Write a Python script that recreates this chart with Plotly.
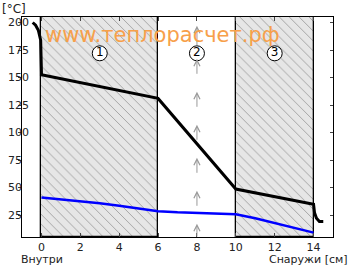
import plotly.graph_objects as go

# ---- data ----
layer_edges = [0, 6, 10, 14]          # cm
layer_labels = ["1", "2", "3"]
hatched_layers = [0, 2]                # indices of solid layers

temp_x = [-0.45, -0.3, -0.16, -0.04, 0.0, 0.0, 6.0, 10.0, 14.0, 14.05, 14.15, 14.3, 14.5]
temp_y = [200, 197.5, 193, 184, 155, 152.5, 131, 48.6, 34.7, 27, 22, 19, 19]

dew_x = [0, 1, 2, 3, 4, 5, 6, 7, 8, 9, 10, 11, 12, 13, 14]
dew_y = [41, 39.4, 37.6, 35.6, 33.5, 31.2, 28.5, 27.4, 26.9, 26.3, 25.6, 22, 17.5, 13.5, 9]

arrow_heads = [197, 167, 137, 107, 77, 47, 17]
arrow_tails = [178, 152, 122, 92, 62, 32, 4]
arrow_x = 8

y_ticks = [25, 50, 75, 100, 125, 150, 175, 200]
x_ticks = [0, 2, 4, 6, 8, 10, 12, 14]

y_min, y_max = 5, 205
x_min, x_max = -1, 15
FONT = "DejaVu Sans"

fig = go.Figure()

# hatched layers
bx, bw = [], []
for i in hatched_layers:
    a, b = layer_edges[i], layer_edges[i + 1]
    bx.append((a + b) / 2)
    bw.append(b - a)
fig.add_trace(go.Bar(
    x=bx, y=[y_max - y_min] * len(bx), base=[y_min] * len(bx), width=bw,
    marker=dict(color="#e6e6e6",
                line=dict(color="black", width=1.3),
                pattern=dict(shape="\\", fgcolor="#9a9a9a", bgcolor="#e6e6e6",
                             size=7, solidity=0.12, fillmode="replace")),
    hoverinfo="skip", showlegend=False))

# temperature
fig.add_trace(go.Scatter(x=temp_x, y=temp_y, mode="lines",
                         line=dict(color="black", width=3), showlegend=False))
# dew point
fig.add_trace(go.Scatter(x=dew_x, y=dew_y, mode="lines",
                         line=dict(color="#0000ff", width=2.5), showlegend=False))

annotations = []
for h, t in zip(arrow_heads, arrow_tails):
    annotations.append(dict(x=arrow_x, y=h, ax=arrow_x, ay=t, xref="x", yref="y",
                            axref="x", ayref="y", showarrow=True, arrowhead=5,
                            arrowsize=1.2, arrowwidth=1, arrowcolor="#999999", text=""))

# layer numbers
cx = [(layer_edges[i] + layer_edges[i + 1]) / 2 for i in range(3)]
fig.add_trace(go.Scatter(x=cx, y=[172] * 3, mode="markers+text", text=layer_labels,
                         textposition="middle center",
                         textfont=dict(family=FONT, size=12, color="black"),
                         marker=dict(size=15, color="white", line=dict(color="black", width=1)),
                         showlegend=False))

# left-aligned y tick labels (as in the reference)
for v in y_ticks:
    annotations.append(dict(x=-0.0514, y=v, xref="paper", yref="y", text=str(v),
                            showarrow=False, xanchor="left", yanchor="middle",
                            font=dict(family=FONT, size=11, color="#222")))

annotations.append(dict(x=6.25, y=189, xref="x", yref="y", text="www.теплорасчет.рф",
                        showarrow=False, font=dict(family=FONT, size=21, color="#f7a04a")))
annotations.append(dict(x=-0.0707, y=1.035, xref="paper", yref="paper", text="[°C]",
                        showarrow=False, xanchor="left", yanchor="middle",
                        font=dict(family=FONT, size=12, color="#222")))
annotations.append(dict(x=0.064, y=-0.1, xref="paper", yref="paper", text="Внутри",
                        showarrow=False, xanchor="center", yanchor="middle",
                        font=dict(family=FONT, size=11, color="#222")))
annotations.append(dict(x=1.055, y=-0.1, xref="paper", yref="paper", text="Снаружи [см]",
                        showarrow=False, xanchor="right", yanchor="middle",
                        font=dict(family=FONT, size=11, color="#222")))

fig.update_layout(
    width=351, height=265,
    margin=dict(l=22, r=18, t=17, b=28, autoexpand=False),
    plot_bgcolor="white", paper_bgcolor="white",
    barmode="overlay", bargap=0,
    annotations=annotations,
    xaxis=dict(range=[x_min, x_max], tickvals=x_ticks, ticks="inside", ticklen=4,
               showline=True, linecolor="black", linewidth=1, mirror="ticks",
               showgrid=False, zeroline=False, automargin=False, ticklabelstandoff=0,
               tickfont=dict(family=FONT, size=11, color="#222")),
    yaxis=dict(range=[y_min, y_max], tickvals=y_ticks, ticks="outside", ticklen=3,
               showline=True, linecolor="black", linewidth=1, mirror=True,
               showgrid=False, zeroline=False, automargin=False, showticklabels=False),
    yaxis2=dict(range=[y_min, y_max], tickvals=y_ticks, ticks="inside", ticklen=3,
                overlaying="y", side="right", showticklabels=False, automargin=False,
                showgrid=False, zeroline=False, showline=False),
)
# invisible trace to activate yaxis2
fig.add_trace(go.Scatter(x=[None], y=[None], yaxis="y2", showlegend=False))

fig.write_html("out.html")
